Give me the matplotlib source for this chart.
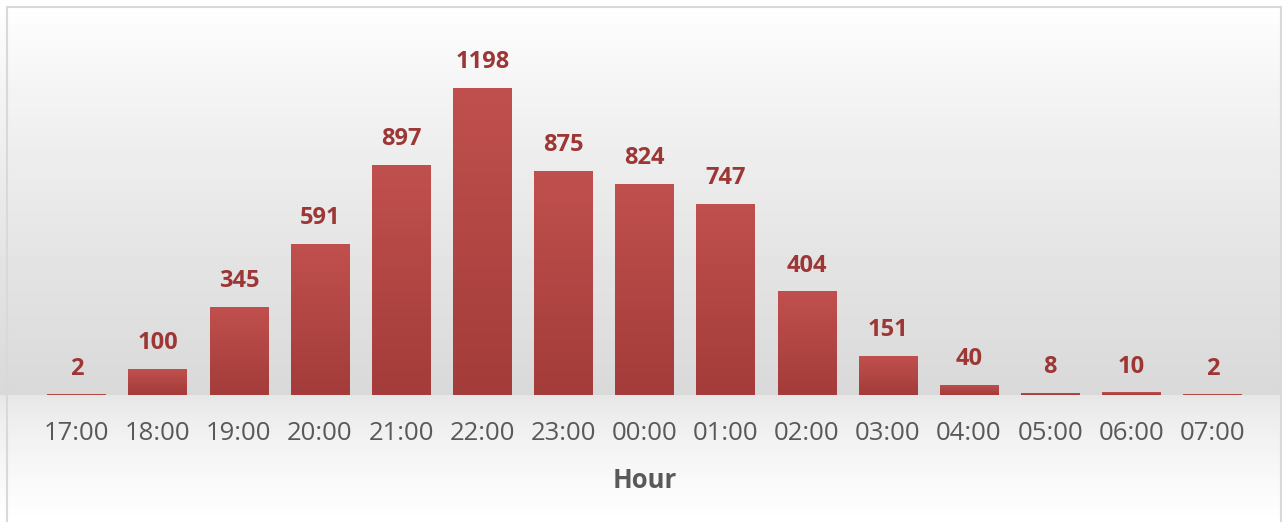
import numpy as np
import matplotlib
matplotlib.use("Agg")
import matplotlib.pyplot as plt
from matplotlib.patches import Rectangle
from matplotlib.colors import LinearSegmentedColormap

hours = ["17:00", "18:00", "19:00", "20:00", "21:00", "22:00", "23:00", "00:00",
         "01:00", "02:00", "03:00", "04:00", "05:00", "06:00", "07:00"]
counts = [2, 100, 345, 591, 897, 1198, 875, 824, 747, 404, 151, 40, 8, 10, 2]

plt.rcParams['font.family'] = ['Open Sans', 'DejaVu Sans']

W, H = 1282, 522
fig = plt.figure(figsize=(W / 100, H / 100), dpi=100)

# background gradient (white -> grey at baseline -> white)
bg = fig.add_axes([0, 0, 1, 1], zorder=-10)
bg.set_axis_off()
ypx = np.arange(H)
base = 395
shade = np.where(ypx < base,
                 1.0 - 0.15 * ((ypx - 7).clip(0) / (base - 7)) ** 0.8,
                 0.90 + 0.10 * ((ypx - base) / (H - base)) ** 0.7)
img = np.repeat(shade[:, None], 2, axis=1)
bg.imshow(img, cmap="gray", vmin=0, vmax=1, aspect="auto",
          extent=[0, 1, 0, 1], origin="upper")
bg.set_xlim(0, 1)
bg.set_ylim(0, 1)
bg.add_patch(Rectangle((7 / W, -0.1), (1281 - 7) / W, 1.1 - 7 / H,
                       fill=False, edgecolor="#d9d9d9", lw=1.5))

ax = fig.add_axes([36 / W, (H - base) / H, 1217 / W, 340 / H])
ax.patch.set_alpha(0)
x = np.arange(len(hours))
bars = ax.bar(x, counts, width=0.72, color="#b0413e", zorder=2)

cmap = LinearSegmentedColormap.from_list("bar", ["#a33c3a", "#c0504d"])
grad = np.linspace(0, 1, 256)[:, None]
for b in bars:
    x0, y0 = b.get_x(), b.get_y()
    w, h = b.get_width(), b.get_height()
    im = ax.imshow(grad, cmap=cmap, aspect="auto", origin="lower",
                   extent=[x0, x0 + w, y0, y0 + h], zorder=3)
    im.set_clip_path(b)

ax.set_aspect("auto")
ax.set_xlim(-0.5, len(hours) - 0.5)
ax.set_ylim(0, 1198 * 340 / 307)

for xi, v in zip(x, counts):
    ax.annotate(str(v), (xi, v), xytext=(0, 10), textcoords="offset points",
                ha="center", va="bottom", fontsize=17, fontweight="bold",
                color="#9c3735")

ax.set_xticks(x)
ax.set_xticklabels(hours, fontsize=18.5, color="#595959")
ax.tick_params(axis="x", length=0, pad=19)
ax.set_yticks([])
for s in ax.spines.values():
    s.set_visible(False)
ax.set_xlabel("Hour", fontsize=18.5, fontweight="bold", color="#595959", labelpad=15)

fig.savefig("out.png", dpi=100)
